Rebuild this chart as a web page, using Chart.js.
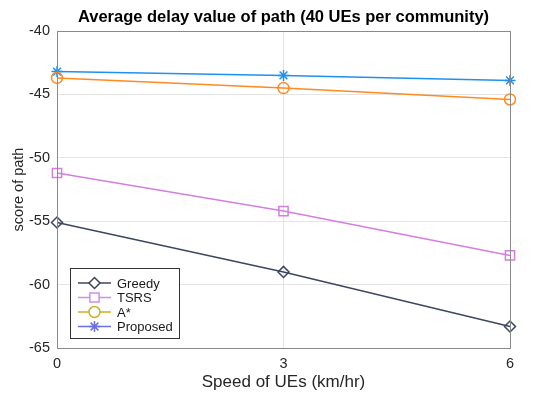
<!DOCTYPE html>
<html><head><meta charset="utf-8">
<script src="https://cdn.jsdelivr.net/npm/chart.js@4.4.1/dist/chart.umd.min.js"></script>
<style>html,body{margin:0;padding:0;background:#fff}#c{display:block}</style>
</head><body>
<div style="width:550px;height:396px"><canvas id="c" width="550" height="396"></canvas></div>
<script>
const speeds = [0, 3, 6];
const greedy = [-55.1, -59.0, -63.3];
const tsrs = [-51.2, -54.2, -57.7];
const astar = [-43.7, -44.5, -45.4];
const proposed = [-43.2, -43.5, -43.9];
const seriesNames = ['Greedy', 'TSRS', 'A*', 'Proposed'];
const yTicks = [-40, -45, -50, -55, -60, -65];

const colors = ['#3b4661', '#d47fe0', '#ff8a20', '#1e90f0'];
const legendColors = ['#3b4661', '#d08ee8', '#c9b228', '#6a72e2'];
const styles = ['rectRot', 'rect', 'circle', 'star'];
const radii = [5.5, 6.5, 5.5, 5.5];
const FONT = '"Liberation Sans", Arial, sans-serif';

const toPts = arr => arr.map((v, i) => ({x: speeds[i], y: v}));
const datasets = [greedy, tsrs, astar, proposed].map((d, i) => ({
  label: seriesNames[i], data: toPts(d), borderColor: colors[i], backgroundColor: 'rgba(0,0,0,0)',
  borderWidth: 1.5, pointStyle: styles[i], pointRadius: radii[i], pointBorderWidth: 1.5,
  pointBorderColor: colors[i], pointBackgroundColor: 'rgba(0,0,0,0)', clip: false, tension: 0
}));

const framePlugin = {
  id: 'frame',
  afterDraw(chart) {
    const {ctx, chartArea: a} = chart;
    ctx.save();
    ctx.strokeStyle = '#8a8a8a'; ctx.lineWidth = 1;
    ctx.strokeRect(a.left + 0.5, a.top + 0.5, a.right - a.left, a.bottom - a.top);
    // legend
    const bx = 70, by = 268, bw = 109, bh = 70;
    ctx.fillStyle = '#fff'; ctx.fillRect(bx, by, bw, bh);
    ctx.strokeStyle = '#333'; ctx.lineWidth = 1;
    ctx.strokeRect(bx + 0.5, by + 0.5, bw, bh);
    ctx.font = '13px ' + FONT;
    ctx.textBaseline = 'middle';
    seriesNames.forEach((n, i) => {
      const y = 283 + i * 14.5;
      ctx.strokeStyle = legendColors[i]; ctx.lineWidth = 1.5;
      ctx.beginPath(); ctx.moveTo(78, y); ctx.lineTo(111, y); ctx.stroke();
      ctx.fillStyle = '#fff';
      ctx.strokeStyle = legendColors[i];
      Chart.helpers.drawPoint(ctx, {pointStyle: styles[i], radius: radii[i], borderWidth: 1.5}, 94.5, y);
      ctx.fillStyle = '#1a1a1a';
      ctx.fillText(n, 117, y + 1);
    });
    ctx.restore();
  }
};

new Chart(document.getElementById('c'), {
  type: 'line',
  data: {datasets},
  options: {
    responsive: false, animation: false, devicePixelRatio: 1,
    layout: {padding: {left: 10, right: 40, top: 0, bottom: 0}},
    plugins: {
      legend: {display: false}, tooltip: {enabled: false},
      title: {display: true, text: 'Average delay value of path (40 UEs per community)', fullSize: false,
        color: '#000', font: {family: FONT, size: 16.5, weight: 'bold', lineHeight: 1.2},
        padding: {top: 8, bottom: 3.2}}
    },
    scales: {
      x: {type: 'linear', min: 0, max: 6,
        afterBuildTicks: s => { s.ticks = speeds.map(v => ({value: v})); },
        afterFit: s => { s.height = 48; },
        grid: {color: '#e4e4e4', drawTicks: false, lineWidth: 1},
        border: {display: false},
        ticks: {color: '#262626', padding: 7, font: {family: FONT, size: 14.5}},
        title: {display: true, text: 'Speed of UEs (km/hr)', color: '#262626', padding: {top: 0, bottom: 3},
          font: {family: FONT, size: 17}}
      },
      y: {min: -65, max: -40,
        afterBuildTicks: s => { s.ticks = yTicks.map(v => ({value: v})); },
        afterFit: s => { s.width = 47; },
        grid: {color: '#e4e4e4', drawTicks: false, lineWidth: 1},
        border: {display: false},
        ticks: {color: '#262626', padding: 7, font: {family: FONT, size: 14.5}},
        title: {display: true, text: 'score of path', color: '#262626', padding: {top: 0, bottom: 0},
          font: {family: FONT, size: 14.5}}
      }
    }
  },
  plugins: [framePlugin]
});
</script>
</body></html>
